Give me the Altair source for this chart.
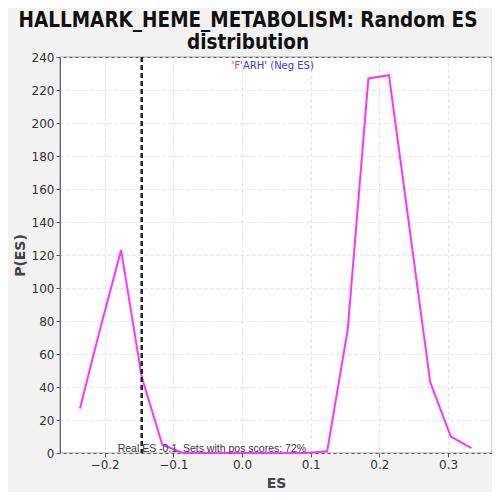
import altair as alt
import pandas as pd

es = [-0.236, -0.206, -0.176, -0.146, -0.116, -0.086, -0.056, -0.026, 0.004, 0.034,
      0.064, 0.094, 0.124, 0.154, 0.184, 0.214, 0.244, 0.274, 0.304, 0.334]
pes = [27, 76, 123, 46, 5, 0, 0, 0, 0, 0,
       0, 0, 1, 75, 227, 229, 136, 43, 10, 3]
real_es = -0.146
x_ticks = [-0.2, -0.1, 0.0, 0.1, 0.2, 0.3]
y_ticks = list(range(0, 241, 20))

df = pd.DataFrame({"ES": es, "P": pes})
df_rule = pd.DataFrame({"ES": [real_es]})
df_txt = pd.DataFrame({"ES": [-0.181, -0.086],
                       "P": [0, 0],
                       "t": ["Real ES -0.1", "Sets with pos scores: 72%"]})

xs = alt.Scale(domain=[-0.265, 0.364], nice=False, zero=False)
ys = alt.Scale(domain=[0, 240], nice=False)
x_axis = alt.Axis(values=x_ticks, format=".1f", labelOverlap=False)
y_axis = alt.Axis(values=y_ticks, labelOverlap=False, tickCount=13)

def xe():
    return alt.X("ES:Q", scale=xs, title="ES", axis=x_axis)

def ye():
    return alt.Y("P:Q", scale=ys, title="P(ES)", axis=y_axis)

line = alt.Chart(df).mark_line(color="#ff33ff", strokeWidth=2).encode(x=xe(), y=ye())
rule = alt.Chart(df_rule).mark_rule(color="#222222", strokeWidth=2.5,
                                    strokeDash=[5, 3]).encode(x=xe())
txt = alt.Chart(df_txt).mark_text(align="left", baseline="bottom", fontSize=10.5,
                                  color="#333333", dy=1, font="Liberation Sans").encode(
    x=xe(), y=ye(), text="t:N")
leg_red = alt.Chart(df_rule).mark_text(align="right", baseline="middle", fontSize=10,
                                       color="#ff3333", font="DejaVu Sans").encode(
    x=alt.value(183), y=alt.value(9), text=alt.value("'F'"))
leg_blue = alt.Chart(df_rule).mark_text(align="left", baseline="middle", fontSize=10,
                                        color="#3333ff", font="DejaVu Sans").encode(
    x=alt.value(183), y=alt.value(9), text=alt.value("ARH' (Neg ES)"))

chart = alt.layer(line, rule, txt, leg_red, leg_blue).properties(
    width=432, height=396,
    background="#f2f2f2",
    autosize=alt.AutoSizeParams(type="none"),
    padding={"left": 52, "top": 49, "right": 0, "bottom": 39},
    title=alt.TitleParams(["HALLMARK_HEME_METABOLISM: Random ES", "distribution"],
                          fontSize=20.5, font="DejaVu Sans Condensed", fontWeight="bold",
                          color="#111111", anchor="middle", offset=-2, lineHeight=22,
                          dx=-28),
).configure_view(fill="white", stroke="#555555", strokeWidth=1.2).configure_axis(
    labelFont="DejaVu Sans", labelFontSize=12, labelColor="#333333",
    titleFont="DejaVu Sans", titleFontSize=14, titleFontWeight="bold", titleColor="#444444",
    grid=True, gridColor="#e0e0e0", gridDash=[3, 3], domain=False,
    tickColor="#555555", tickSize=4,
).configure_axisY(titlePadding=4).configure_axisX(titlePadding=6)

chart.save("out.html", embed_options={"renderer": "svg", "actions": False})
